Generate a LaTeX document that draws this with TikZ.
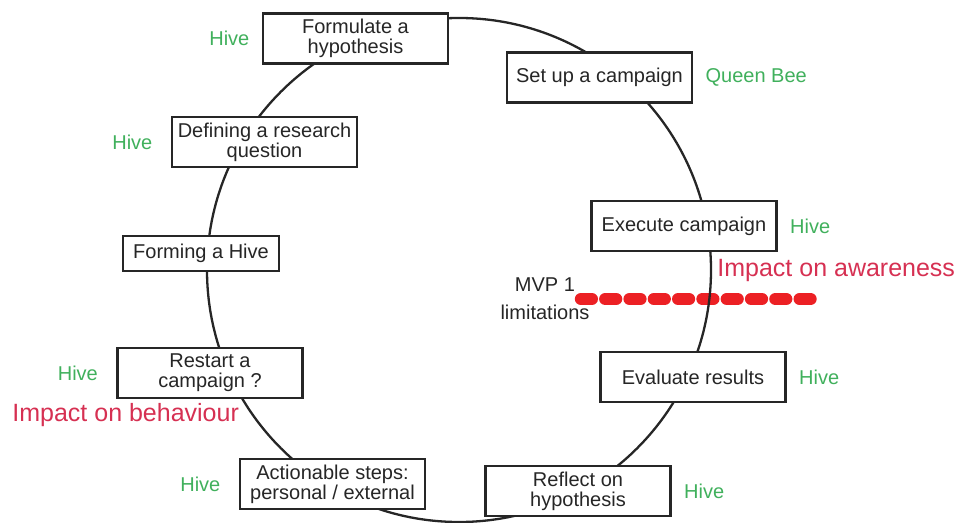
\documentclass[tikz,border=0pt]{standalone}
\usepackage{fontspec}
\setmainfont{Liberation Sans}
\definecolor{HiveGreen}{RGB}{64, 176, 92}
\definecolor{ImpactRed}{RGB}{214, 48, 82}
\definecolor{LimitRed}{RGB}{236, 32, 36}
\usetikzlibrary{positioning}

\begin{document}
\begin{tikzpicture}[
        x=0.5pt, y=-0.5pt,
        ring/.style={circle, draw=black!85, line width=1.15pt,
                     minimum size=252pt, inner sep=0pt},
        box/.style={rectangle, draw=black!85, line width=1.25pt, fill=white,
                    minimum width=92.5pt, minimum height=25pt, inner sep=2pt,
                    font=\fontsize{10}{10}\selectfont, align=center, text=black!85},
        role/.style={font=\fontsize{10}{12}\selectfont, text=HiveGreen, inner sep=0pt},
        impact/.style={font=\fontsize{12.5}{14}\selectfont, text=ImpactRed, inner sep=0pt},
        note/.style={font=\fontsize{10}{12}\selectfont, text=black!85, inner sep=0pt},
        limit/.style={LimitRed, line width=6.2pt, line cap=round,
                      dash pattern=on 5.4pt off 6.75pt},
        node distance=6pt
      ]
      \useasboundingbox (0,0) rectangle (959,523);
      % MVP 1 cut line, under the cycle
      \coordinate (lim-a) at (581,299);
      \coordinate (lim-b) at (812,299);
      \draw[limit] (lim-a) -- (lim-b);
      \node[ring] (cycle-ring) at (459,270) {};
      % steps of the cycle
      \node[box] (form) at (355.5,38.5) {Formulate a\\hypothesis};
      \node[box] (setup) at (599.5,77.5) {Set up a campaign};
      \node[box] (exec) at (684,226) {Execute campaign};
      \node[box] (eval) at (693,377) {Evaluate results};
      \node[box] (refl) at (578,491) {Reflect on\\hypothesis};
      \node[box] (act) at (332.5,484) {Actionable steps:\\personal / external};
      \node[box] (restart) at (210,373) {Restart a\\campaign ?};
      \node[box, minimum width=78pt, minimum height=17.5pt] (hive) at (201,253.5) {Forming a Hive};
      \node[box] (define) at (264.5,142) {Defining a research\\question};
      % who does what
      \node[role, left=of form] (form-role) {Hive};
      \node[role, right=of setup] (setup-role) {Queen Bee};
      \node[role, right=of exec] (exec-role) {Hive};
      \node[role, right=of eval] (eval-role) {Hive};
      \node[role, right=of refl] (refl-role) {Hive};
      \node[role, left=9pt of act] (act-role) {Hive};
      \node[role, left=9pt of restart] (restart-role) {Hive};
      \node[role, left=9pt of define] (define-role) {Hive};
      % impact and limits
      \node[impact, anchor=base west] (aware) at (717,277) {Impact on awareness};
      \node[impact, anchor=base west] (behave) at (12,422) {Impact on behaviour};
      \node[note, anchor=base] (mvp) at (545,292) {MVP 1};
      \node[note, anchor=base] (limits) at (545,320) {limitations};
    \end{tikzpicture}
\end{document}
